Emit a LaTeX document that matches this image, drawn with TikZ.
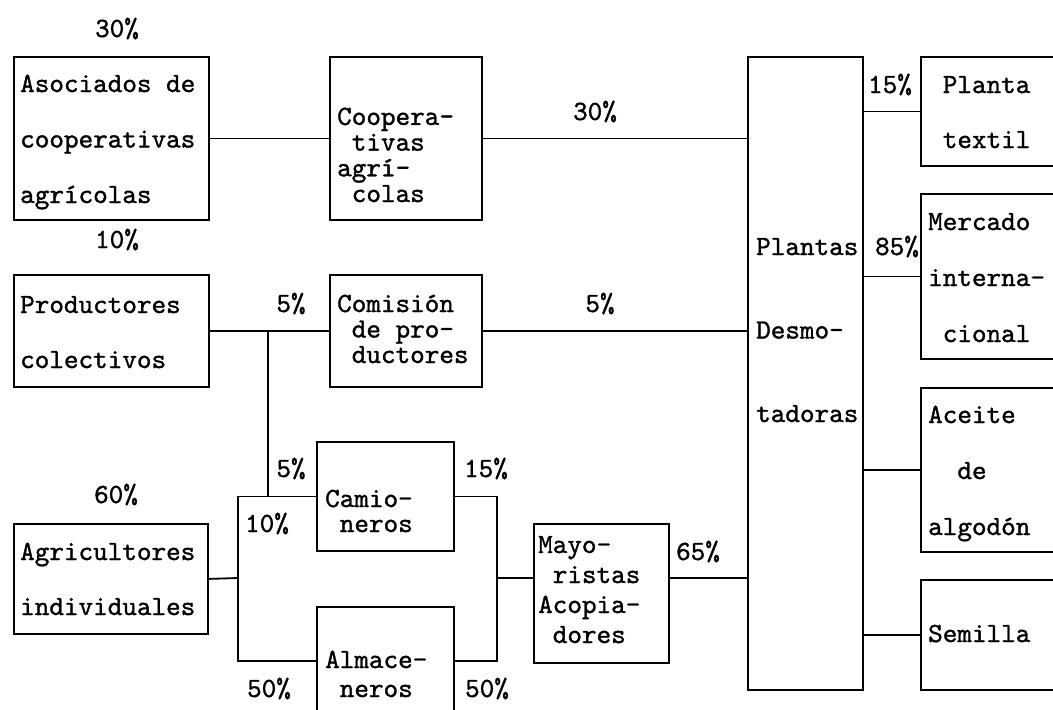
\documentclass[tikz,border=0pt]{standalone}
\usepackage{fontspec}
\newfontfamily\monofnt{lmmono10-regular.otf}[FakeBold=1.2]
\begin{document}
\begin{tikzpicture}[x=1pt,y=-1pt,
  box/.style={draw, line width=1.8pt, inner sep=0pt, anchor=north west},
  wire/.style={line width=1.8pt},
  txt/.style={font=\monofnt\fontsize{27.8}{#1}\selectfont, align=left, inner sep=0pt, anchor=base west},
  pct/.style={font=\monofnt\fontsize{27.8}{30}\selectfont, inner sep=0pt, anchor=base}]
\useasboundingbox (0,0) rectangle (1053,710);
\clip (0,0) rectangle (1053,710);
% boxes
\node[box, minimum width=195pt, minimum height=163pt] (aso) at (13,56) {};
\node[box, minimum width=152pt, minimum height=163pt] (coop) at (329,56) {};
\node[box, minimum width=115pt, minimum height=633pt] (plan) at (747,56) {};
\node[box, minimum width=150pt, minimum height=109pt] (tex) at (920,56) {};
\node[box, minimum width=150pt, minimum height=165pt] (mer) at (920,193) {};
\node[box, minimum width=150pt, minimum height=164pt] (ace) at (920,387) {};
\node[box, minimum width=150pt, minimum height=110pt] (sem) at (920,579) {};
\node[box, minimum width=195pt, minimum height=112pt] (prod) at (13,274) {};
\node[box, minimum width=152pt, minimum height=112pt] (com) at (329,274) {};
\node[box, minimum width=194pt, minimum height=110pt] (agr) at (13,523) {};
\node[box, minimum width=137pt, minimum height=109pt] (cam) at (316,441) {};
\node[box, minimum width=137pt, minimum height=108pt] (alm) at (316,606) {};
\node[box, minimum width=135pt, minimum height=139pt] (may) at (533,523) {};
% box texts (anchored at the baseline of their last line)
\node[txt=55.5] (asoT) at (20,203) {Asociados de\\cooperativas\\agrícolas};
\node[txt=25.7] (coopT) at (337,202) {Coopera-\\~tivas\\agrí-\\~colas};
\node[txt=83.5] (planT) at (756,422) {Plantas\\Desmo-\\tadoras};
\node[txt=55] (texT) at (928,148) {~Planta\\~textil};
\node[txt=56] (merT) at (928,342) {Mercado\\interna-\\~cional};
\node[txt=56] (aceT) at (928,535) {Aceite\\~~de\\algodón};
\node[txt=28] (semT) at (928,642) {Semilla};
\node[txt=55] (prodT) at (20,368) {Productores\\colectivos};
\node[txt=25.5] (comT) at (337,363) {Comisión\\~de pro-\\~ductores};
\node[txt=55] (agrT) at (20,615) {Agricultores\\individuales};
\node[txt=25] (camT) at (325,532) {Camio-\\~neros};
\node[txt=29] (almT) at (325,697) {Almace-\\~neros};
\node[txt=30] (mayT) at (538,643) {Mayo-\\~ristas\\Acopia-\\~dores};
% percentages
\node[pct] (p1) at (117,37) {30\%};
\node[pct] (p2) at (117,248) {10\%};
\node[pct] (p3) at (116,503) {60\%};
\node[pct] (p4) at (595,120) {30\%};
\node[pct] (p5) at (600,312) {5\%};
\node[pct] (p6) at (291,312) {5\%};
\node[pct] (p7) at (890,93) {15\%};
\node[pct] (p8) at (897,255) {85\%};
\node[pct] (p9) at (291,477) {5\%};
\node[pct] (p10) at (486,477) {15\%};
\node[pct] (p11) at (267,532) {10\%};
\node[pct] (p12) at (269,697) {50\%};
\node[pct] (p13) at (487,697) {50\%};
\node[pct] (p14) at (698,560) {65\%};
% connectors
\coordinate (j1) at (268,330);
\coordinate (jL) at (238,578);
\coordinate (jR) at (497,578);
\draw[wire] (aso) -- (coop);
\draw[wire] (coop.east) -- (coop.east -| plan.west);
\draw[wire] (tex.west -| plan.east) -- (tex.west);
\draw[wire] (mer.west -| plan.east) -- (mer.west);
\draw[wire] (ace.west -| plan.east) -- (ace.west);
\draw[wire] (sem.west -| plan.east) -- (sem.west);
\draw[wire] (prod) -- (com);
\draw[wire] (com.east) -- (com.east -| plan.west);
\draw[wire] (agr.east) -- (jL);
\draw[wire] (cam.west) -- (cam.west -| jL) -- (alm.west -| jL) -- (alm.west);
\draw[wire] (j1) -- (j1 |- cam.west);
\draw[wire] (cam.east) -- (cam.east -| jR) -- (alm.east -| jR) -- (alm.east);
\draw[wire] (jR) -- (jR -| may.west);
\draw[wire] (may.east |- jR) -- (jR -| plan.west);
\end{tikzpicture}
\end{document}
